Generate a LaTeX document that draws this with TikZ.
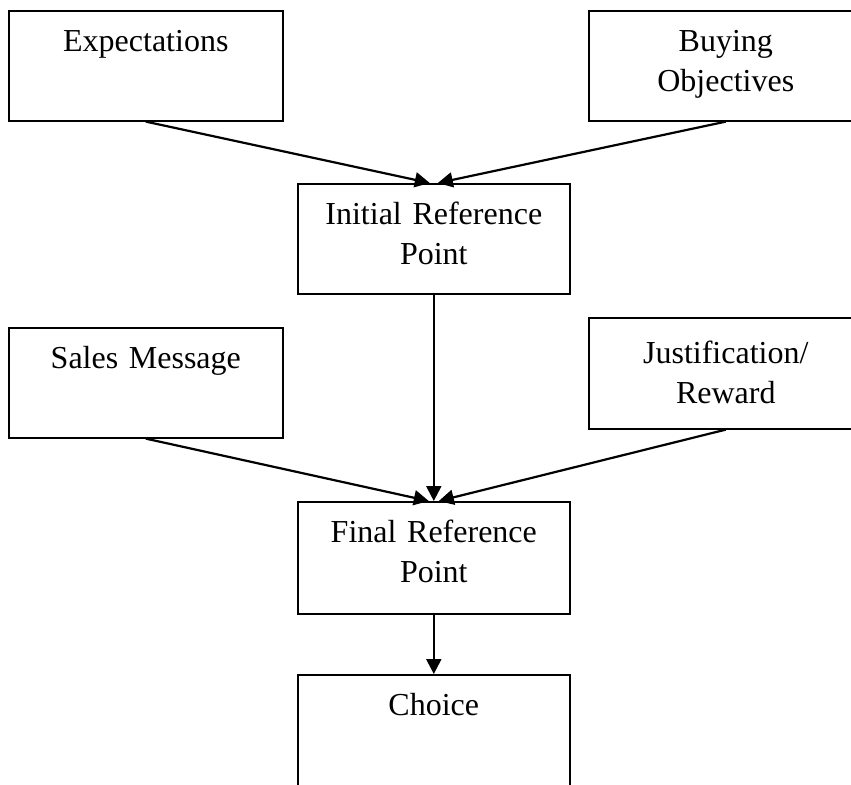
\documentclass[tikz,border=0pt]{standalone}
\usepackage{fontspec}
\setmainfont{Liberation Serif}
\usepackage{tikz}
\usetikzlibrary{arrows.meta,positioning}

\begin{document}
\begin{tikzpicture}[
    x=0.5pt, y=-0.5pt,
    box/.style={rectangle, draw, line width=0.8pt, anchor=north west, inner sep=0pt, align=center, text width=137pt, text height=20.5pt, text depth=34.5pt, font=\fontsize{16}{20}\selectfont},
    arrow/.style={-{Triangle[length=7.5pt,width=7.5pt]}, line width=1.1pt}
]
    \useasboundingbox (0,0) rectangle (851,784);

    \node[box] (exp) at (8,10) {Expectations};
    \node[box] (buy) at (588,10) {Buying\\Objectives};
    \node[box, text width=136pt] (init) at (297,183) {Initial Reference\\Point};
    \node[box] (sales) at (8,327) {Sales Message};
    \node[box, text height=23pt, text depth=32.5pt] (just) at (588,317) {Justification/\\Reward};
    \node[box, text width=136pt, text depth=35.5pt] (fin) at (297,501) {Final Reference\\Point};
    \node[box, text width=136pt, text depth=50pt] (choice) at (297,674) {Choice};

    \draw[arrow] (exp.south) -- ([xshift=-2pt]init.north);
    \draw[arrow] (buy.south) -- ([xshift=2pt]init.north);
    \draw[arrow] (init) -- (fin);
    \draw[arrow] (sales.south) -- ([xshift=-2.5pt]fin.north);
    \draw[arrow] (just.south) -- ([xshift=2.5pt]fin.north);
    \draw[arrow] (fin) -- (choice);
\end{tikzpicture}
\end{document}
